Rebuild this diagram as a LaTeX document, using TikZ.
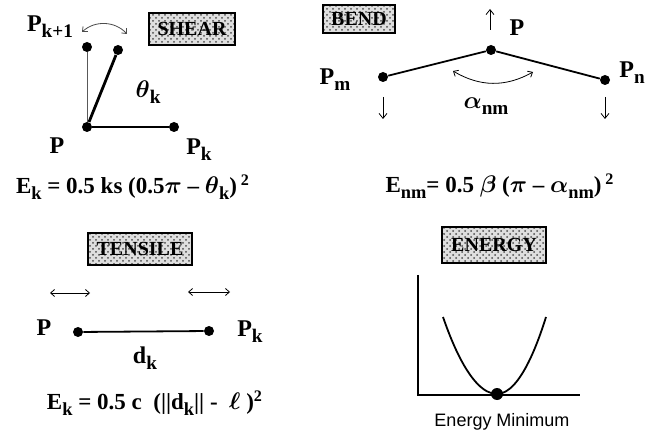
\documentclass[tikz,border=0pt]{standalone}
\usepackage{fontspec}
\setmainfont{Liberation Serif}
\setsansfont{Liberation Sans}
\usetikzlibrary{arrows.meta, patterns}
\newcommand{\lo}[1]{\raisebox{-0.55ex}{\scalebox{0.8}{#1}}}

\begin{document}
\begin{tikzpicture}[x=0.5pt, y=-0.5pt,
    tag/.style={draw, thick, preaction={fill=gray!25}, pattern=crosshatch dots,
                pattern color=black!70, font=\bfseries, inner sep=1pt},
    dot/.style={circle, fill, inner sep=0pt, minimum size=5pt},
    lbl/.style={font=\bfseries\boldmath\large},
    eq/.style={font=\bfseries\boldmath\fontsize{11.5}{14}\selectfont},
    rod/.style={line width=1.4pt},
    link/.style={line width=0.9pt},
    swing/.style={{Straight Barb[length=2pt,width=3.5pt]}-{Straight Barb[length=2pt,width=3.5pt]}, thin},
    push/.style={-{Straight Barb[length=2.5pt,width=4pt]}, thin}
  ]
  \useasboundingbox (0,0) rectangle (647,432);

  % shear
  \node[tag, minimum width=43pt, minimum height=16pt] (shear) at (192,29) {SHEAR};
  \node[dot] (sP)  at (87,127)  {};
  \node[dot] (sPk) at (174,127) {};
  \node[dot] (sA)  at (87,47)   {};
  \node[dot] (sB)  at (118,50)  {};
  \node[lbl] (sPlbl)  at (57,146)  {P};
  \node[lbl] (sPklbl) at (199,150) {P\lo{k}};
  \node[lbl] (sAlbl)  at (50,27)   {P\lo{k+1}};
  \node[lbl] (theta)  at (148,92)  {$\theta$\lo{k}};
  \coordinate (sL) at (82,32);
  \coordinate (sR) at (127,34);
  \draw[thin, gray!70!black] (sP) -- (sA);
  \draw[rod] (sP) -- (sB);
  \draw[rod] (sP) -- (sPk);
  \draw[swing, gray!60!black] (sL) to[bend left=45] (sR);
  \node[eq] (sEq) at (133,187) {E\lo{k} = 0.5 ks (0.5$\pi$ -- $\theta$\lo{k})\,\textsuperscript{2}};

  % bend
  \node[tag, minimum width=36pt, minimum height=14pt] (bend) at (359,19) {BEND};
  \node[dot] (bP) at (491,50) {};
  \node[dot] (bM) at (383,77) {};
  \node[dot] (bN) at (605,80) {};
  \node[lbl] (bPlbl) at (517,28) {P};
  \node[lbl] (bMlbl) at (335,80) {P\lo{m}};
  \node[lbl] (bNlbl) at (632,73) {P\lo{n}};
  \node[lbl] (alpha) at (486,106) {$\alpha$\lo{nm}};
  \draw[link] (bM) -- (bP) -- (bN);
  \coordinate (bUp0) at (490,30);
  \coordinate (bUp1) at (490,9);
  \coordinate (bM0) at (383,97);
  \coordinate (bM1) at (383,119);
  \coordinate (bN0) at (605,97);
  \coordinate (bN1) at (605,119);
  \draw[push] (bUp0) -- (bUp1);
  \draw[push] (bM0) -- (bM1);
  \draw[push] (bN0) -- (bN1);
  \coordinate (bL) at (453,71);
  \coordinate (bR) at (533,72);
  \draw[swing] (bL) to[bend right=30] (bR);
  \node[eq] (bEq) at (500,186) {E\lo{nm}= 0.5 $\beta$ ($\pi$ -- $\alpha$\lo{nm})\,\textsuperscript{2}};

  % tensile
  \node[tag, minimum width=52pt, minimum height=16pt] (tensile) at (140,249) {TENSILE};
  \node[dot] (tP)  at (78,332)  {};
  \node[dot] (tPk) at (209,331) {};
  \node[lbl] (tPlbl)  at (44,328)  {P};
  \node[lbl] (tPklbl) at (250,332) {P\lo{k}};
  \node[lbl] (dk)     at (145,358) {d\lo{k}};
  \draw[link] (tP) -- (tPk);
  \coordinate (tL0) at (50,293);
  \coordinate (tL1) at (90,293);
  \coordinate (tR0) at (188,292);
  \coordinate (tR1) at (230,292);
  \draw[swing] (tL0) -- (tL1);
  \draw[swing] (tR0) -- (tR1);
  \node[eq] (tEq) at (155,403) {E\lo{k} = 0.5 c~ (||d\lo{k}|| -~ $\ell$~)\textsuperscript{2}};

  % energy
  \node[tag, minimum width=52pt, minimum height=18pt] (energy) at (494,245) {ENERGY};
  \coordinate (eTop) at (418,275);
  \coordinate (eO)   at (418,395);
  \coordinate (eEnd) at (580,395);
  \coordinate (eL)   at (443,317);
  \coordinate (eR)   at (546,317);
  \node[dot, minimum size=6pt] (eMin) at (497,394) {};
  \draw[link] (eTop) -- (eO) -- (eEnd);
  \draw[link] (eL) parabola bend (eMin.center) (eR);
  \node[font=\sffamily\small] (eLbl) at (502,422) {Energy Minimum};
\end{tikzpicture}
\end{document}
